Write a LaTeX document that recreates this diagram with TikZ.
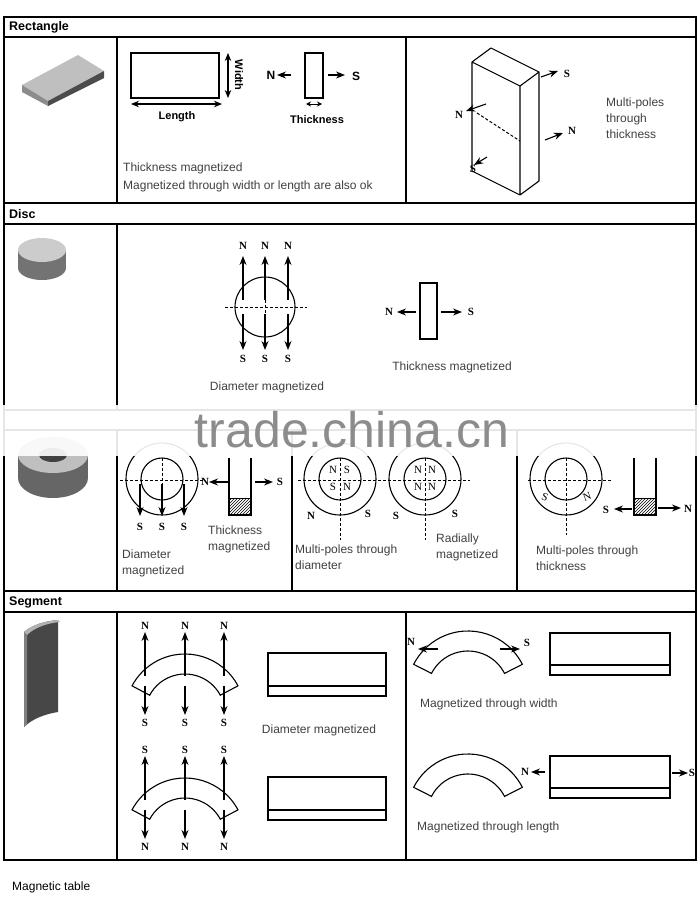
\documentclass[tikz,border=0pt]{standalone}
\usepackage{fontspec}
\setmainfont{Liberation Serif}
\setsansfont{Liberation Sans}
\usetikzlibrary{arrows.meta,patterns}
\begin{document}
\begin{tikzpicture}[x=1pt,y=-1pt,
  lbl/.style={font=\sffamily\fontsize{12}{16}\selectfont,text=black!75,anchor=west,inner sep=0,align=left},
  hdr/.style={font=\sffamily\bfseries\fontsize{12.5}{14}\selectfont,anchor=west,inner sep=0},
  pole/.style={font=\rmfamily\bfseries\fontsize{11}{12}\selectfont,inner sep=0},
  arr/.style={-{Stealth[length=9pt,width=7pt]},line width=1.1pt},
  dbl/.style={{Stealth[length=8pt,width=6.5pt]}-{Stealth[length=8pt,width=6.5pt]},line width=1.1pt},
  tbl/.style={line width=1.3pt},
  shp/.style={line width=1.1pt},
  dsh/.style={dash pattern=on 3pt off 2pt,line width=1pt}]
\useasboundingbox (0,0) rectangle (700,907);
% table
\draw[tbl] (4,17) rectangle (696,860);
\foreach \y in {37,203,224,410,430,591,612} \draw[tbl] (4,\y) -- (696,\y);
\draw[tbl] (117,37) -- (117,203) (406,37) -- (406,203) (117,224) -- (117,410) (117,430) -- (117,591)
  (292,430) -- (292,591) (517,430) -- (517,591) (117,612) -- (117,860) (406,612) -- (406,860);
\node[hdr] (hrect) at (9,27) {Rectangle};
\node[hdr] (hdisc) at (9,214) {Disc};
\node[hdr] (hseg) at (9,602) {Segment};
% ---------- rectangle row
\fill[black!25] (22,85) -- (78,55) -- (104,71) -- (48,101) -- cycle;
\fill[black!45] (22,85) -- (48,101) -- (48,106) -- (22,92) -- cycle;
\fill[black!70] (48,101) -- (104,71) -- (104,78) -- (48,106) -- cycle;
\draw[shp] (131,53) rectangle (219,98);
\draw[dbl] (228,53) -- (228,98);
\node[font=\sffamily\bfseries\fontsize{11}{12}\selectfont,rotate=-90] (wid) at (239,75) {Width};
\draw[dbl] (131,104) -- (222,104);
\node[font=\sffamily\bfseries\fontsize{11}{12}\selectfont] (len) at (177,117) {Length};
\draw[shp] (305,53) rectangle (323,98);
\node[font=\sffamily\bfseries\fontsize{12}{12}\selectfont] (tn) at (271,75) {N};
\draw[arr] (291,75) -- (277,75);
\draw[arr] (328,75) -- (345,75);
\node[font=\sffamily\bfseries\fontsize{12}{12}\selectfont] (ts) at (356,76) {S};
\draw[{Stealth[length=5pt,width=5pt]}-{Stealth[length=5pt,width=5pt]},line width=1pt] (306,104) -- (322,104);
\node[font=\sffamily\bfseries\fontsize{11}{12}\selectfont] (thk) at (317,120) {Thickness};
\node[lbl] (t1) at (123,168) {Thickness magnetized};
\node[lbl] (t2) at (123,186) {Magnetized through width or length are also ok};
\draw[shp,line join=round] (472,62) -- (491,48) -- (539,72) -- (520,86) -- cycle
  (472,62) -- (472,171) -- (520,195) -- (520,86) (520,195) -- (539,181) -- (539,72);
\draw[dsh] (477,113) -- (520,141);
\draw[arr] (541,77) -- (558,71); \node[pole] (s1) at (567,74) {S};
\draw[arr] (545,140) -- (563,133); \node[pole] (n1) at (572,131) {N};
\draw[arr] (486,104) -- (466,111); \node[pole] (n2) at (459,115) {N};
\draw[arr] (487,157) -- (474,165); \node[pole] (s2) at (473,169) {S};
\node[lbl] (mp) at (606,118) {Multi-poles\\through\\thickness};
% ---------- disc row
\fill[black!55] (18,250) rectangle (66,268);
\fill[black!55] (42,268) ellipse[x radius=24,y radius=12];
\fill[black!20] (42,250) ellipse[x radius=24,y radius=12];
\draw[shp] (265,307) circle[radius=30];
\draw[dsh] (225,307) -- (307,307) (265,265) -- (265,347);
\foreach \x in {243,265,288} {
  \draw[arr] (\x,300) -- (\x,256); \draw[arr] (\x,314) -- (\x,350);
  \node[pole] at (\x,246) {N}; \node[pole] at (\x,359) {S};}
\node[lbl,anchor=center] (dm) at (267,387) {Diameter magnetized};
\draw[shp] (420,283) rectangle (437,339);
\node[pole] (dn) at (389,312) {N}; \draw[arr] (416,312) -- (397,312);
\draw[arr] (441,312) -- (462,312); \node[pole] (ds) at (471,312) {S};
\node[lbl,anchor=center] (dtm) at (452,367) {Thickness magnetized};
% ---------- ring row
\fill[black!60] (18,455) rectangle (88,478);
\fill[black!60] (53,478) ellipse[x radius=35,y radius=20];
\fill[black!25] (53,455) ellipse[x radius=35,y radius=18];
\fill[black!75] (53,455) ellipse[x radius=14,y radius=7];
% col1
\draw[shp] (162,479) circle[radius=36] (162,479) circle[radius=21];
\draw[dsh] (120,480) -- (205,480) (162,458) -- (162,512);
\foreach \x in {140,162,184} {\draw[arr] (\x,484) -- (\x,516); \node[pole] at (\x,527) {S};}
\node[pole] (rn) at (205,482) {N}; \draw[arr] (230,482) -- (209,482);
\draw[shp] (229,458) -- (229,515) -- (251,515) -- (251,458);
\draw[pattern=north east lines] (229,498) rectangle (251,515);
\draw[arr] (255,482) -- (273,482); \node[pole] (rs) at (280,482) {S};
\node[lbl] (rtm) at (208,539) {Thickness\\magnetized};
\node[lbl] (rdm) at (122,563) {Diameter\\magnetized};
% col2
\draw[dsh] (298,480) -- (470,480);
\foreach \cx/\a/\b/\c/\d in {340/N/S/S/N,425/N/N/N/N} {
  \draw[shp] (\cx,479) circle[radius=36] (\cx,479) circle[radius=21];
  \draw[dsh] (\cx,458) -- (\cx,540);
  \node[pole,font=\rmfamily\fontsize{11}{12}\selectfont] at (\cx-7,470) {\a};
  \node[pole,font=\rmfamily\fontsize{11}{12}\selectfont] at (\cx+7,470) {\b};
  \node[pole,font=\rmfamily\fontsize{11}{12}\selectfont] at (\cx-7,487) {\c};
  \node[pole,font=\rmfamily\fontsize{11}{12}\selectfont] at (\cx+7,487) {\d};}
\node[pole] (p1) at (311,516) {N}; \node[pole] (p2) at (368,514) {S};
\node[pole] (p3) at (396,516) {S}; \node[pole] (p4) at (455,514) {S};
\node[lbl] (mpd) at (295,557) {Multi-poles through\\diameter};
\node[lbl] (rad) at (436,547) {Radially\\magnetized};
% col3
\draw[shp] (566,479) circle[radius=36] (566,479) circle[radius=21];
\draw[dsh] (528,480) -- (612,480) (566,458) -- (566,535);
\node[pole,font=\rmfamily\fontsize{11}{12}\selectfont,rotate=-20] (r3s) at (545,497) {S};
\node[pole,font=\rmfamily\fontsize{11}{12}\selectfont,rotate=20] (r3n) at (587,497) {N};
\draw[shp] (634,458) -- (634,515) -- (656,515) -- (656,458);
\draw[pattern=north east lines] (634,498) rectangle (656,515);
\node[pole] (r3s2) at (606,510) {S}; \draw[arr] (632,509) -- (614,509);
\draw[arr] (658,508) -- (681,508); \node[pole] (r3n2) at (688,509) {N};
\node[lbl] (mpt) at (536,558) {Multi-poles through\\thickness};
% ---------- segment row
\fill[black!72] (24,632) .. controls (32,625) and (45,621) .. (58,620) -- (58,712)
  .. controls (45,714) and (32,719) .. (24,727) -- cycle;
\fill[black!30] (24,632) .. controls (32,625) and (45,621) .. (58,620) -- (60,622)
  .. controls (47,623) and (34,628) .. (27,635) -- cycle;
\fill[black!50] (24,632) -- (27,635) -- (27,724) -- (24,727) -- cycle;
\foreach \dy/\top/\bot in {0/N/S,124/S/N} {
  \begin{scope}[yshift=-\dy]
  \draw[shp,shift={(185,714)}] (-28:60) arc[start angle=-28,end angle=-152,radius=60] -- (-152:40)
     arc[start angle=-152,end angle=-28,radius=40] -- cycle;
  \foreach \x in {145,185,224} {
    \draw[arr] (\x,676) -- (\x,632); \node[pole] at (\x,626) {\top};
    \draw[arr] (\x,686) -- (\x,715); \node[pole] at (\x,723) {\bot};}
  \draw[shp] (268,653) rectangle (386,696) (268,686) -- (386,686);
  \end{scope}}
\node[lbl,anchor=center] (sdm) at (319,730) {Diameter magnetized};
\foreach \dy in {0,123} {
  \begin{scope}[yshift=-\dy]
  \draw[shp,shift={(468,692)}] (-27:61) arc[start angle=-27,end angle=-153,radius=61] -- (-153:41)
     arc[start angle=-153,end angle=-27,radius=41] -- cycle;
  \draw[shp] (550,633) rectangle (670,675) (550,665) -- (670,665);
  \end{scope}}
\draw[arr] (438,649) -- (418,649); \node[pole] (wn) at (411,642) {N};
\draw[arr] (500,649) -- (520,649); \node[pole] (ws) at (527,643) {S};
\node[lbl] (mw) at (420,704) {Magnetized through width};
\node[pole] (ln) at (525,772) {N}; \draw[arr] (545,772) -- (531,772);
\draw[arr] (672,773) -- (688,773); \node[pole] (ls) at (692,773) {S};
\node[lbl] (ml) at (417,827) {Magnetized through length};
\node[lbl,text=black] (mt) at (12,887) {Magnetic table};
% watermark
\fill[white,opacity=0.9] (0,405) rectangle (700,456);
\node[font=\sffamily\fontsize{50}{50}\selectfont,text=black!45] (wm) at (352,430) {trade.china.cn};
\end{tikzpicture}
\end{document}
